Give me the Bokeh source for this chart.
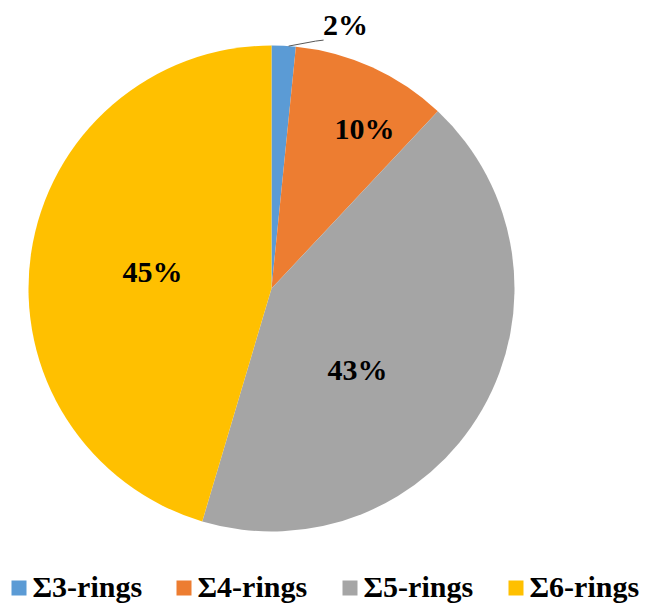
import math
from bokeh.plotting import figure
from bokeh.models import Range1d, ColumnDataSource
from bokeh.core.properties import value
from bokeh.embed import file_html
from bokeh.resources import INLINE

categories = ["\u03a33-rings", "\u03a34-rings", "\u03a35-rings", "\u03a36-rings"]
values = [1.6, 10.4, 42.6, 45.4]
pct_labels = ["2%", "10%", "43%", "45%"]
colors = ["#5B9BD5", "#ED7D31", "#A5A5A5", "#FFC000"]

W, H = 646, 604
p = figure(width=W, height=H, output_backend="svg", toolbar_location=None,
           x_range=Range1d(0, W), y_range=Range1d(0, H), min_border=0)
p.axis.visible = False
p.grid.visible = False
p.outline_line_color = None
p.background_fill_color = "white"

FONT = value("serif")
BASE_FIX = 11  # renderer draws alphabetic baseline slightly lower


def Y(ypix):
    return H - ypix


def YT(ypix_baseline):
    return H - (ypix_baseline - BASE_FIX)


cx, cy, r = 271, Y(288), 243
total = sum(values)
starts, ends = [], []
cum = 0.0
for v in values:
    a0 = math.pi / 2 - 2 * math.pi * cum / total
    cum += v
    a1 = math.pi / 2 - 2 * math.pi * cum / total
    starts.append(a0)
    ends.append(a1)

src = ColumnDataSource(dict(start=starts, end=ends, color=colors, cat=categories))
p.wedge(x=cx, y=cy, radius=r, start_angle="start", end_angle="end",
        direction="clock", fill_color="color", line_color=None, source=src)

# label placement (centre x, baseline y in pixels)
label_pos = [(345, 35), (364, 139), (357, 380), (152, 282)]
p.text(x=[a for a, b in label_pos], y=[YT(b) for a, b in label_pos], text=pct_labels,
       text_font=FONT, text_font_style="bold",
       text_font_size="30px", text_color="black",
       text_align="center", text_baseline="alphabetic")

# leader line for the small slice
edge_a = starts[0] - (starts[0] - ends[0]) * 0.7
ex, ey = cx + r * math.cos(edge_a), cy + r * math.sin(edge_a)
p.line(x=[ex, ex + 27, ex + 35], y=[ey, ey + 5, ey + 6], line_color="#595959", line_width=1)

# legend
leg_x = [11, 176, 342, 508]
sq = 15
p.rect(x=[x + sq / 2 for x in leg_x], y=[Y(587.5)] * 4, width=sq, height=sq,
       fill_color=colors, line_color=None)
p.text(x=[x + sq + 6 for x in leg_x], y=[YT(597)] * 4, text=categories,
       text_font=FONT, text_font_style="bold",
       text_font_size="30px", text_color="black", text_align="left",
       text_baseline="alphabetic")

open("out.html", "w").write(file_html(p, INLINE))
